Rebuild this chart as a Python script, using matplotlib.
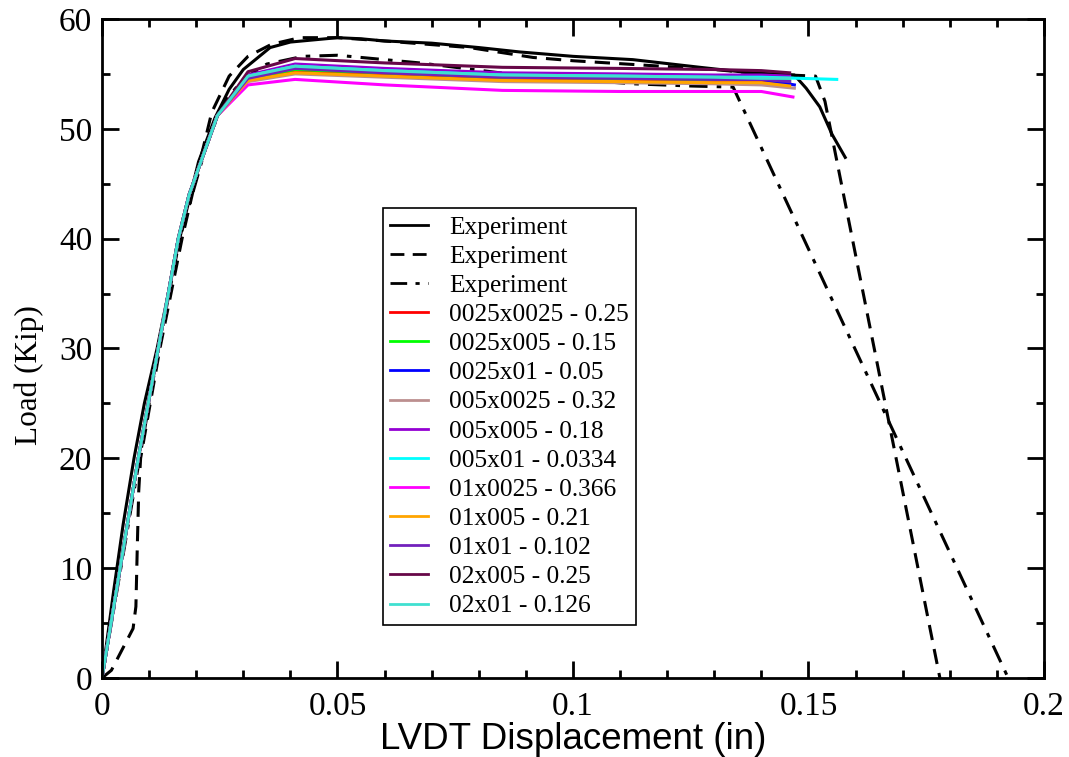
import matplotlib
matplotlib.use("Agg")
import matplotlib.pyplot as plt
from matplotlib.ticker import MultipleLocator, FormatStrFormatter

# Experiment curves (x in inches, y in kip)
exp1_x = [0, 0.0025, 0.0045, 0.0068, 0.009, 0.0117, 0.0162, 0.0205, 0.024, 0.027, 0.03, 0.0357,
          0.04, 0.045, 0.05, 0.055, 0.06, 0.07, 0.08, 0.0887, 0.1, 0.1127, 0.127, 0.1376,
          0.147, 0.1495, 0.1524, 0.155, 0.1578]
exp1_y = [0, 8, 14, 20, 25, 30, 39.5, 47, 51, 53.6, 55.4, 57.4,
          57.9, 58.1, 58.3, 58.2, 58.0, 57.8, 57.4, 57.0, 56.6, 56.3, 55.6, 55.1,
          54.9, 53.7, 52.0, 49.5, 47.4]

exp2_x = [0, 0.002, 0.0066, 0.0072, 0.0075, 0.0078, 0.0082, 0.0123, 0.017, 0.0205, 0.0233,
          0.027, 0.031, 0.036, 0.042, 0.05, 0.06, 0.078, 0.0915, 0.1, 0.115, 0.13, 0.14,
          0.1515, 0.1535, 0.1779]
exp2_y = [0, 0.7, 4.5, 6.5, 12, 17, 20, 30, 40, 46.5, 51.5,
          54.8, 56.6, 57.7, 58.3, 58.3, 58.0, 57.4, 56.5, 56.2, 55.8, 55.4, 55.0,
          54.8, 52.5, 0]

exp3_x = [0, 0.004, 0.008, 0.012, 0.0165, 0.0225, 0.026, 0.03, 0.035, 0.0427, 0.05,
          0.0675, 0.0845, 0.1, 0.1127, 0.125, 0.134, 0.1924]
exp3_y = [0, 10, 20, 30, 40, 49, 52.5, 54.5, 55.9, 56.6, 56.7,
          56.0, 55.1, 54.5, 54.1, 53.9, 53.8, 0]

# Simulations: common rise, individual plateau
sim_x = [0, 0.0077, 0.0162, 0.0185, 0.0245, 0.031, 0.041, 0.06, 0.085, 0.11, 0.13, 0.14]
sim_labels = ["0025x0025 - 0.25", "0025x005 - 0.15", "0025x01 - 0.05", "005x0025 - 0.32",
              "005x005 - 0.18", "005x01 - 0.0334", "01x0025 - 0.366", "01x005 - 0.21",
              "01x01 - 0.102", "02x005 - 0.25", "02x01 - 0.126"]
sim_colors = ["#ff0000", "#00ff00", "#0000ff", "#bc8f8f", "#9400d3", "#00ffff",
              "#ff00ff", "#ffa500", "#7221bc", "#670748", "#40e0d0"]
sim_end_x = [0.146, 0.146, 0.147, 0.147, 0.146, 0.156, 0.1467, 0.146, 0.146, 0.146, 0.146]

sim_y = [
    [0, 20, 40, 44, 51.2, 54.5, 55.2, 54.9, 54.5, 54.4, 54.3, 54.3, 54.1],
    [0, 20, 40, 44, 51.2, 54.6, 55.4, 55.1, 54.7, 54.6, 54.5, 54.5, 54.4],
    [0, 20, 40, 44, 51.2, 54.7, 55.6, 55.2, 54.8, 54.7, 54.6, 54.5, 54.0],
    [0, 20, 40, 44, 51.2, 54.3, 55.0, 54.7, 54.3, 54.2, 54.1, 54.0, 53.7],
    [0, 20, 40, 44, 51.2, 54.9, 55.9, 55.5, 55.1, 55.0, 54.9, 54.9, 54.8],
    [0, 20, 40, 44, 51.2, 54.8, 55.7, 55.3, 54.9, 54.8, 54.7, 54.7, 54.5],
    [0, 20, 40, 44, 51.2, 54.0, 54.5, 54.0, 53.5, 53.4, 53.4, 53.4, 52.9],
    [0, 20, 40, 44, 51.2, 54.4, 55.1, 54.8, 54.4, 54.3, 54.2, 54.2, 53.9],
    [0, 20, 40, 44, 51.2, 54.6, 55.5, 55.1, 54.7, 54.6, 54.5, 54.5, 54.3],
    [0, 20, 40, 44, 51.2, 55.2, 56.4, 56.0, 55.6, 55.5, 55.4, 55.3, 55.1],
    [0, 20, 40, 44, 51.2, 54.8, 55.7, 55.3, 54.9, 54.8, 54.7, 54.6, 54.6],
]

plt.rcParams['font.family'] = ['Liberation Serif', 'DejaVu Serif']

fig = plt.figure(figsize=(10.69, 7.57), dpi=100)
ax = fig.add_axes([0.0954, 0.1044, 0.8812, 0.8705])

ax.plot(exp1_x, exp1_y, color='black', lw=2.2, ls='-', label='Experiment')
ax.plot(exp2_x, exp2_y, color='black', lw=2.2, ls=(0, (5, 3)), label='Experiment')
ax.plot(exp3_x, exp3_y, color='black', lw=2.2, ls=(0, (6, 3, 1.5, 3)), label='Experiment')

for lab, col, ex, ys in zip(sim_labels, sim_colors, sim_end_x, sim_y):
    ax.plot(sim_x + [ex], ys, color=col, lw=2.2, label=lab)

ax.set_xlim(0, 0.2)
ax.set_ylim(0, 60)
ax.xaxis.set_major_locator(MultipleLocator(0.05))
ax.xaxis.set_minor_locator(MultipleLocator(0.01))
ax.yaxis.set_major_locator(MultipleLocator(10))
ax.yaxis.set_minor_locator(MultipleLocator(5))
ax.xaxis.set_major_formatter(FormatStrFormatter('%g'))
ax.tick_params(which='both', direction='in', top=True, right=True, width=2)
ax.tick_params(which='major', length=12, labelsize=24)
ax.tick_params(axis='x', which='major', pad=10)
ax.tick_params(axis='y', which='major', pad=7)
ax.tick_params(which='minor', length=6)
for s in ax.spines.values():
    s.set_linewidth(2)

ax.set_xlabel('LVDT Displacement (in)', fontsize=26.5, family=['Liberation Sans'], labelpad=0)
ax.set_ylabel('Load (Kip)', fontsize=22.5)
ax.yaxis.set_label_coords(-0.062, 0.46)

leg = ax.legend(loc='upper left', bbox_to_anchor=(0.298, 0.713), fontsize=18.3,
                handlelength=1.5, labelspacing=0.25, borderpad=0.3, handletextpad=0.8,
                borderaxespad=0, fancybox=False, framealpha=1, edgecolor='black')
leg.get_frame().set_linewidth(1.2)
for h in leg.get_lines():
    h.set_linewidth(2)

fig.savefig('out.png', dpi=100)
